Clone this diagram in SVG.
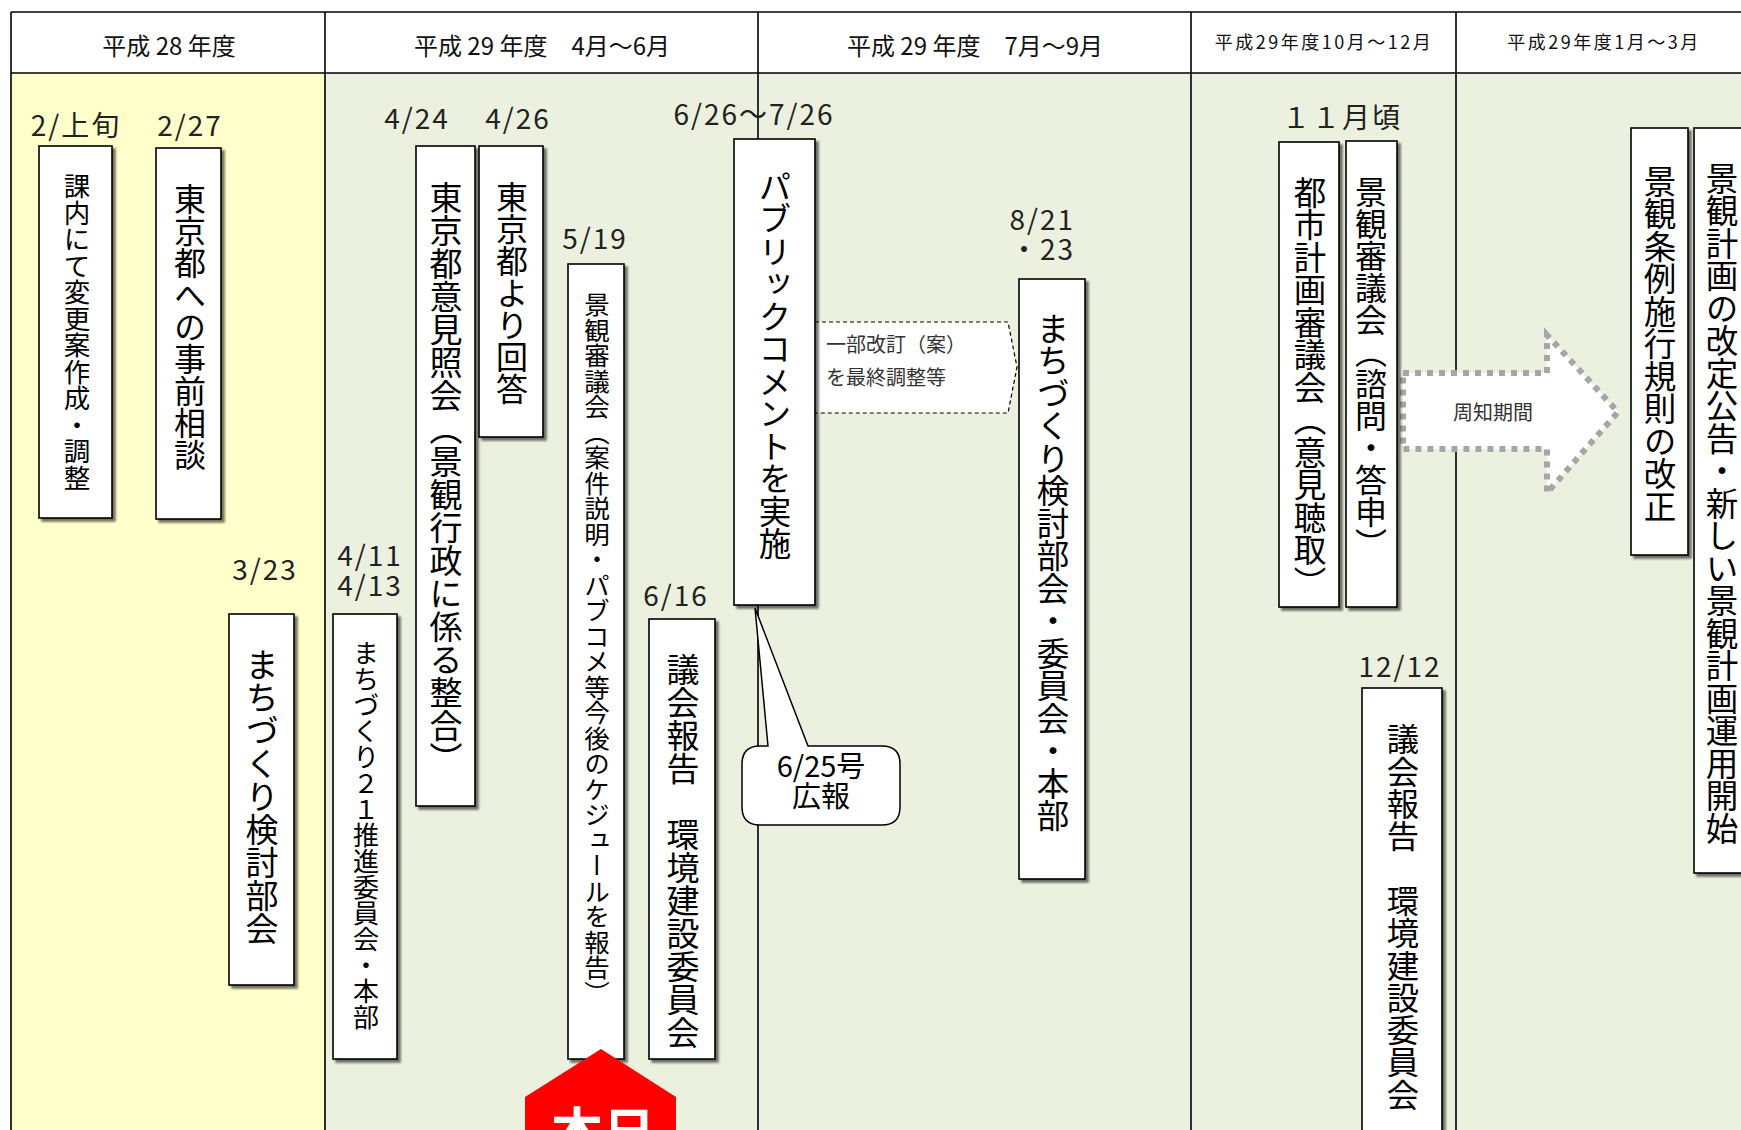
<svg xmlns="http://www.w3.org/2000/svg" width="1741" height="1130" viewBox="0 0 1741 1130">
<defs>
<style>
.jp{font-family:"Noto Sans CJK JP","Noto Sans CJK SC",sans-serif;}
.hd{font-size:24px;fill:#111;text-anchor:middle;}
.hds{font-size:18px;fill:#111;text-anchor:middle;letter-spacing:2.5px;}
.dt{font-size:28px;fill:#222;text-anchor:middle;letter-spacing:2px;}
.box{fill:#fff;stroke:#000;stroke-width:1.6;filter:url(#sh);}
.vt{writing-mode:vertical-rl;fill:#000;}
.grid{stroke:#000;stroke-width:1.6;fill:none;}
.note{font-size:20px;fill:#333;}
</style>
<filter id="sh" x="-20%" y="-5%" width="140%" height="110%">
<feDropShadow dx="3" dy="3" stdDeviation="1.2" flood-color="#000" flood-opacity="0.55"/>
</filter>
</defs>

<g id="background">
<rect x="0" y="0" width="1741" height="1130" fill="#fff"/>
<rect x="11" y="73" width="314" height="1057" fill="#FFFFCC"/>
<rect x="325" y="73" width="1416" height="1057" fill="#EBF1DE"/>
</g>

<g id="table">
<line class="grid" x1="11" y1="12" x2="1741" y2="12"/>
<line class="grid" x1="11" y1="73" x2="1741" y2="73"/>
<line class="grid" x1="11" y1="12" x2="11" y2="1130"/>
<line class="grid" x1="325" y1="12" x2="325" y2="1130"/>
<line class="grid" x1="758" y1="12" x2="758" y2="1130"/>
<line class="grid" x1="1191" y1="12" x2="1191" y2="1130"/>
<line class="grid" x1="1456" y1="12" x2="1456" y2="1130"/>
<text class="jp hd" x="169" y="55">平成 28 年度</text>
<text class="jp hd" x="542" y="55">平成 29 年度　4月～6月</text>
<text class="jp hd" x="975" y="55">平成 29 年度　7月～9月</text>
<text class="jp hds" x="1324" y="49">平成29年度10月～12月</text>
<text class="jp hds" x="1604" y="49">平成29年度1月～3月</text>
</g>

<g id="labels">
<text class="jp dt" x="76" y="136">2/上旬</text>
<text class="jp dt" x="190" y="136">2/27</text>
<text class="jp dt" x="265" y="580">3/23</text>
<text class="jp dt" x="370" y="566">4/11</text>
<text class="jp dt" x="370" y="596">4/13</text>
<text class="jp dt" x="417" y="129">4/24</text>
<text class="jp dt" x="518" y="129">4/26</text>
<text class="jp dt" x="595" y="249">5/19</text>
<text class="jp dt" x="676" y="606">6/16</text>
<text class="jp dt" x="754" y="125">6/26～7/26</text>
<text class="jp dt" x="1075" y="230" style="text-anchor:end">8/21</text>
<text class="jp dt" x="1075" y="260" style="text-anchor:end">・23</text>
<text class="jp dt" x="1342" y="128">１１月頃</text>
<text class="jp dt" x="1400" y="677">12/12</text>
</g>

<g id="connectors">
<path id="revision" d="M815 322 L1008 322 L1017 367 L1008 413 L815 413" fill="#fff" stroke="#000" stroke-width="1.2" stroke-dasharray="4 3"/>
<text class="jp note" x="826" y="352">一部改訂（案）</text>
<text class="jp note" x="826" y="385">を最終調整等</text>
<path id="notice-arrow" d="M1403 373 L1547 373 L1547 335 L1618 412 L1547 493 L1547 449 L1403 449 Z" fill="#fff" stroke="#A6A6A6" stroke-width="6" stroke-dasharray="6 6"/>
<text class="jp note" x="1493" y="420" text-anchor="middle" fill="#404040">周知期間</text>
</g>

<g id="n1"><rect class="box" x="39" y="146" width="73" height="372"/><text class="jp vt" x="77" y="173" font-size="26.5">課内にて変更案作成・調整</text></g>
<g id="n2"><rect class="box" x="156" y="148" width="65" height="371"/><text class="jp vt" x="190" y="183" font-size="32">東京都への事前相談</text></g>
<g id="n3"><rect class="box" x="229" y="614" width="65" height="371"/><text class="jp vt" x="262" y="648" font-size="33">まちづくり検討部会</text></g>
<g id="n4"><rect class="box" x="333" y="614" width="64" height="445"/><text class="jp vt" x="366" y="640" font-size="26">まちづくり２１推進委員会・本部</text></g>
<g id="n5"><rect class="box" x="416" y="146" width="59" height="660"/><text class="jp vt" x="446" y="181" font-size="33">東京都意見照会（景観行政に係る整合）</text></g>
<g id="n6"><rect class="box" x="479" y="146" width="64" height="291"/><text class="jp vt" x="512" y="181" font-size="32">東京都より回答</text></g>
<g id="n7"><rect class="box" x="568" y="264" width="56" height="795"/><text class="jp vt" x="597" y="292" font-size="25.5">景観審議会（案件説明・パブコメ等今後のケジュールを報告）</text></g>
<g id="n8"><rect class="box" x="649" y="619" width="66" height="440"/><text class="jp vt" x="683" y="653" font-size="33">議会報告　環境建設委員会</text></g>
<g id="n9"><rect class="box" x="734" y="139" width="81" height="466"/><text class="jp vt" x="775" y="170" font-size="32.5">パブリックコメントを実施</text></g>
<g id="n10"><path d="M768 746 L755 608 L808 746 L882 746 Q900 746 900 764 L900 807 Q900 825 882 825 L760 825 Q742 825 742 807 L742 764 Q742 746 760 746 Z" fill="#fff" stroke="#000" stroke-width="1.5"/><text class="jp" x="821" y="777" font-size="29" text-anchor="middle">6/25号</text><text class="jp" x="821" y="807" font-size="29" text-anchor="middle">広報</text></g>
<g id="n12"><rect class="box" x="1019" y="279" width="66" height="600"/><text class="jp vt" x="1053" y="312" font-size="32.5">まちづくり検討部会・委員会・本部</text></g>
<g id="n13"><rect class="box" x="1279" y="142" width="60" height="465"/><text class="jp vt" x="1310" y="176" font-size="32.5">都市計画審議会（意見聴取）</text></g>
<g id="n14"><rect class="box" x="1346" y="141" width="51" height="466"/><text class="jp vt" x="1371" y="176" font-size="32">景観審議会（諮問・答申）</text></g>
<g id="n15"><rect class="box" x="1362" y="688" width="80" height="460"/><text class="jp vt" x="1403" y="723" font-size="32.3">議会報告　環境建設委員会</text></g>
<g id="n17"><rect class="box" x="1631" y="128" width="57" height="427"/><text class="jp vt" x="1660" y="165" font-size="32.5">景観条例施行規則の改正</text></g>
<g id="n18"><rect class="box" x="1694" y="128" width="80" height="745"/><text class="jp vt" x="1722" y="162" font-size="32.5">景観計画の改定公告・新しい景観計画運用開始</text></g>

<g id="today">
<path d="M601 1049 L676 1097 L676 1140 L525 1140 L525 1097 Z" fill="#FF0000"/>
<text class="jp" x="603" y="1151" font-size="52" font-weight="bold" fill="#fff" text-anchor="middle">本日</text>
</g>
</svg>
